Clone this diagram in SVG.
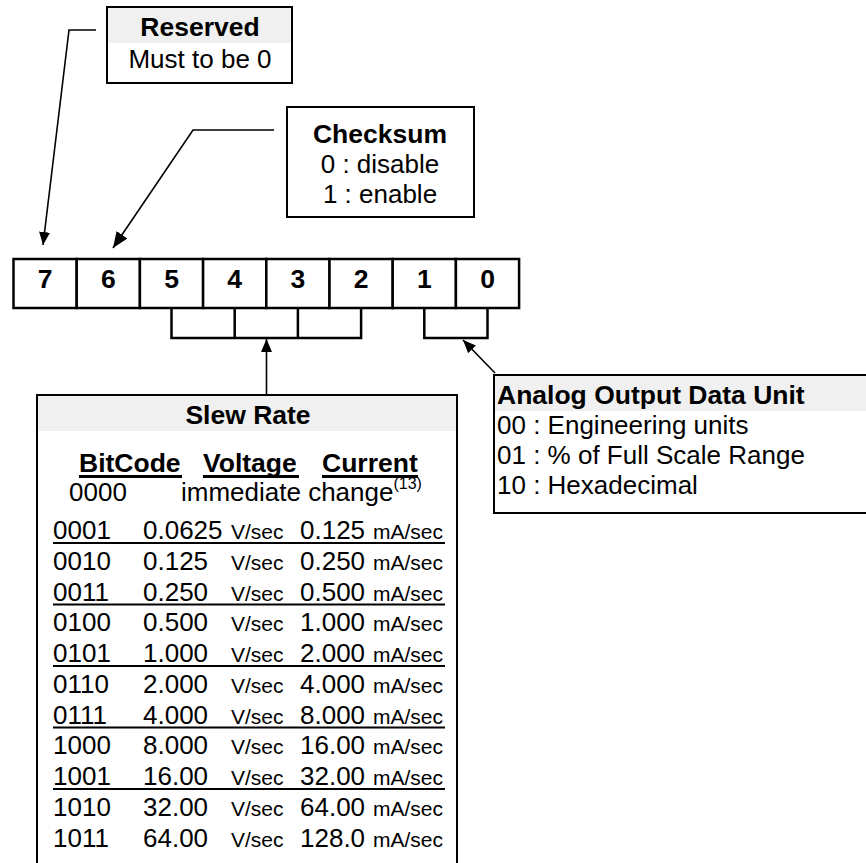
<svg xmlns="http://www.w3.org/2000/svg" width="866" height="863" viewBox="0 0 866 863">
<style>
text{font-family:"Liberation Sans",Arial,Helvetica,sans-serif;fill:#000}
.b{font-weight:bold}
.t26{font-size:26px}
.bb{font-size:26.5px;font-weight:bold}
.u{font-size:21px}
.sup{font-size:16px}
.box{fill:#fff;stroke:#000;stroke-width:2}
.band{fill:#f0f0f0;stroke:none}
.cell{fill:#fff;stroke:#000;stroke-width:2.5}
.brk{fill:none;stroke:#000;stroke-width:2.5}
.con{fill:none;stroke:#000;stroke-width:1.6}
.ul{stroke:#000;stroke-width:2}
.ulb{stroke:#000;stroke-width:3}
.mid{text-anchor:middle}
</style>
<defs>
<marker id="ah" markerUnits="userSpaceOnUse" markerWidth="13" markerHeight="11" refX="13" refY="5.5" orient="auto">
<path d="M0,0 L13,5.5 L0,11 z" fill="#000"/>
</marker>
<marker id="ahL" markerUnits="userSpaceOnUse" markerWidth="16" markerHeight="13" refX="16" refY="6.5" orient="auto">
<path d="M0,0 L16,6.5 L0,13 z" fill="#000"/>
</marker>
</defs>

<g id="connectors">
<path class="con" d="M96,30 H69 L43,245" marker-end="url(#ah)"/>
<path class="con" d="M274,130 H193 L113,248" marker-end="url(#ahL)"/>
<path class="con" d="M266.5,395 V339" marker-end="url(#ah)"/>
<path class="con" d="M495,373 L463,340" marker-end="url(#ah)"/>
</g>

<g id="reserved">
<rect class="box" x="107" y="7" width="185" height="76"/>
<rect class="band" x="108" y="8" width="183" height="35"/>
<text class="bb mid" x="200" y="36">Reserved</text>
<text class="t26 mid" x="200" y="68">Must to be 0</text>
</g>

<g id="checksum">
<rect class="box" x="287" y="107" width="187" height="110"/>
<text class="bb mid" x="380" y="143">Checksum</text>
<text class="t26 mid" x="380" y="173">0 : disable</text>
<text class="t26 mid" x="380" y="203">1 : enable</text>
</g>

<g id="bit7"><rect class="cell" x="13.5" y="259" width="63.2" height="49"/><text class="bb mid" x="45.1" y="288">7</text></g>
<g id="bit6"><rect class="cell" x="76.7" y="259" width="63.2" height="49"/><text class="bb mid" x="108.3" y="288">6</text></g>
<g id="bit5"><rect class="cell" x="139.9" y="259" width="63.2" height="49"/><text class="bb mid" x="171.5" y="288">5</text></g>
<g id="bit4"><rect class="cell" x="203.1" y="259" width="63.2" height="49"/><text class="bb mid" x="234.7" y="288">4</text></g>
<g id="bit3"><rect class="cell" x="266.3" y="259" width="63.2" height="49"/><text class="bb mid" x="297.9" y="288">3</text></g>
<g id="bit2"><rect class="cell" x="329.5" y="259" width="63.2" height="49"/><text class="bb mid" x="361.1" y="288">2</text></g>
<g id="bit1"><rect class="cell" x="392.7" y="259" width="63.2" height="49"/><text class="bb mid" x="424.3" y="288">1</text></g>
<g id="bit0"><rect class="cell" x="455.9" y="259" width="63.2" height="49"/><text class="bb mid" x="487.5" y="288">0</text></g>

<g id="bracket-slew">
<path class="brk" d="M171.5,308 V338 H361.1 V308 M234.7,308 V338 M297.9,308 V338"/>
</g>
<g id="bracket-unit">
<path class="brk" d="M424.3,308 V338 H487.5 V308"/>
</g>

<g id="analog-unit">
<rect class="box" x="494" y="375" width="380" height="138"/>
<rect class="band" x="495" y="376" width="378" height="35"/>
<text class="bb" x="497" y="404">Analog Output Data Unit</text>
<text class="t26" x="497" y="434">00 : Engineering units</text>
<text class="t26" x="497" y="464">01 : % of Full Scale Range</text>
<text class="t26" x="497" y="494">10 : Hexadecimal</text>
</g>

<g id="slew-rate">
<rect class="box" x="37" y="395" width="420" height="480"/>
<rect class="band" x="38" y="396" width="418" height="35"/>
<text class="bb mid" x="248" y="424">Slew Rate</text>
<text class="bb" x="79" y="472">BitCode</text>
<text class="bb" x="203" y="472">Voltage</text>
<text class="bb" x="322" y="472">Current</text>
<line class="ulb" x1="79" y1="476.5" x2="182" y2="476.5"/>
<line class="ulb" x1="203" y1="476.5" x2="299" y2="476.5"/>
<line class="ulb" x1="322" y1="476.5" x2="418" y2="476.5"/>
<text class="t26" x="69" y="501">0000</text>
<text class="t26" x="181" y="501">immediate change<tspan class="sup" dy="-12">(13)</tspan></text>

<g id="rows">
<text class="t26" y="539"><tspan x="53">0001</tspan><tspan x="143">0.0625</tspan><tspan class="u" x="231">V/sec</tspan><tspan x="300">0.125</tspan><tspan class="u" x="373">mA/sec</tspan></text>
<line class="ul" x1="53" y1="543" x2="445" y2="543"/>
<text class="t26" y="569.75"><tspan x="53">0010</tspan><tspan x="143">0.125</tspan><tspan class="u" x="231">V/sec</tspan><tspan x="300">0.250</tspan><tspan class="u" x="373">mA/sec</tspan></text>
<text class="t26" y="600.5"><tspan x="53">0011</tspan><tspan x="143">0.250</tspan><tspan class="u" x="231">V/sec</tspan><tspan x="300">0.500</tspan><tspan class="u" x="373">mA/sec</tspan></text>
<line class="ul" x1="53" y1="604.5" x2="445" y2="604.5"/>
<text class="t26" y="631.25"><tspan x="53">0100</tspan><tspan x="143">0.500</tspan><tspan class="u" x="231">V/sec</tspan><tspan x="300">1.000</tspan><tspan class="u" x="373">mA/sec</tspan></text>
<text class="t26" y="662"><tspan x="53">0101</tspan><tspan x="143">1.000</tspan><tspan class="u" x="231">V/sec</tspan><tspan x="300">2.000</tspan><tspan class="u" x="373">mA/sec</tspan></text>
<line class="ul" x1="53" y1="666" x2="445" y2="666"/>
<text class="t26" y="692.75"><tspan x="53">0110</tspan><tspan x="143">2.000</tspan><tspan class="u" x="231">V/sec</tspan><tspan x="300">4.000</tspan><tspan class="u" x="373">mA/sec</tspan></text>
<text class="t26" y="723.5"><tspan x="53">0111</tspan><tspan x="143">4.000</tspan><tspan class="u" x="231">V/sec</tspan><tspan x="300">8.000</tspan><tspan class="u" x="373">mA/sec</tspan></text>
<line class="ul" x1="53" y1="727.5" x2="445" y2="727.5"/>
<text class="t26" y="754.25"><tspan x="53">1000</tspan><tspan x="143">8.000</tspan><tspan class="u" x="231">V/sec</tspan><tspan x="300">16.00</tspan><tspan class="u" x="373">mA/sec</tspan></text>
<text class="t26" y="785"><tspan x="53">1001</tspan><tspan x="143">16.00</tspan><tspan class="u" x="231">V/sec</tspan><tspan x="300">32.00</tspan><tspan class="u" x="373">mA/sec</tspan></text>
<line class="ul" x1="53" y1="789" x2="445" y2="789"/>
<text class="t26" y="815.75"><tspan x="53">1010</tspan><tspan x="143">32.00</tspan><tspan class="u" x="231">V/sec</tspan><tspan x="300">64.00</tspan><tspan class="u" x="373">mA/sec</tspan></text>
<text class="t26" y="846.5"><tspan x="53">1011</tspan><tspan x="143">64.00</tspan><tspan class="u" x="231">V/sec</tspan><tspan x="300">128.0</tspan><tspan class="u" x="373">mA/sec</tspan></text>
</g>
</g>
</svg>
